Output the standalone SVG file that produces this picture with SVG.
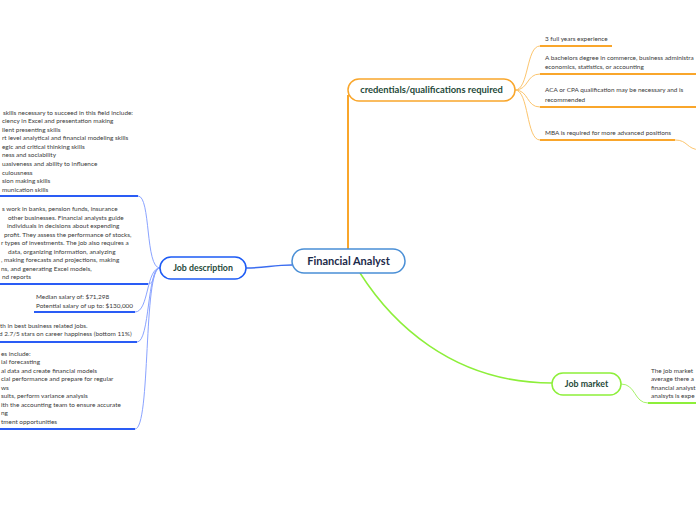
<svg xmlns="http://www.w3.org/2000/svg" width="696" height="520" viewBox="0 0 696 520">
<style>
.t{font-family:Lato,"Liberation Sans",sans-serif;font-size:6.4px;fill:#3a3a3a;}
.h{font-family:Lato,"Liberation Sans",sans-serif;font-size:8.8px;font-weight:bold;fill:#1f4a3a;text-anchor:middle;}
.c{font-family:Lato,"Liberation Sans",sans-serif;font-size:11px;font-weight:bold;fill:#1b2a4a;text-anchor:middle;}
.oc{fill:none;stroke:#fcc56e;stroke-width:1;}
.ou{fill:none;stroke:#f9a62b;stroke-width:2;}
.bc{fill:none;stroke:#8aa3ff;stroke-width:1;}
.bu{fill:none;stroke:#2a5cf5;stroke-width:2;}
.gc{fill:none;stroke:#a6f26a;stroke-width:1;}
.gu{fill:none;stroke:#8def3a;stroke-width:2;}
</style>
<rect width="696" height="520" fill="#ffffff"/>
<g id="connectors">
<path d="M348,95 L348,250" fill="none" stroke="#f9a62b" stroke-width="2"/>
<path d="M292,265 C272,265 266,268 246,268" fill="none" stroke="#3a6cf0" stroke-width="1.5"/>
<path d="M360,273 C390,320 450,383 552,383" fill="none" stroke="#8def3a" stroke-width="1.5"/>
<path class="oc" d="M515,90 C529,90 526,46 540,46"/>
<path class="oc" d="M515,90 C529,90 526,74 540,74"/>
<path class="oc" d="M515,90 C529,90 526,107 540,107"/>
<path class="oc" d="M515,90 C529,90 526,140 540,140"/>
<path class="oc" d="M675,140 C688,140 686,149 700,150"/>
<path class="bc" d="M160,268 C145,268 151,196 138,196"/>
<path class="bc" d="M160,268 C152,268 156,284 148,284"/>
<path class="bc" d="M160,268 C146,268 149,312 135,312"/>
<path class="bc" d="M160,268 C147,268 150,342 137,342"/>
<path class="bc" d="M160,268 C143,268 151,429 135,429"/>
<path class="gc" d="M621,384 C636,384 634,403 648,403"/>
</g>
<g id="center">
<rect x="292" y="249" width="113" height="24" rx="12" fill="#fff" stroke="#4a8fd6" stroke-width="1.5"/>
<text class="c" x="348.5" y="265">Financial Analyst</text>
</g>
<g id="credentials">
<rect x="348" y="79" width="167" height="22" rx="11" fill="#fff" stroke="#f9a62b" stroke-width="1.5"/>
<text class="h" x="431.5" y="93" style="font-size:9.4px">credentials/qualifications required</text>
</g>
<g id="cred-1">
<text class="t" x="545" y="41">3 full years experience</text>
<path class="ou" d="M540,46 L612,46"/>
</g>
<g id="cred-2">
<text class="t" x="545" y="60">A bachelors degree in commerce, business administra</text>
<text class="t" x="545" y="69">economics, statistics, or accounting</text>
<path class="ou" d="M540,74 L696,74"/>
</g>
<g id="cred-3">
<text class="t" x="545" y="92">ACA or CPA qualification may be necessary and is</text>
<text class="t" x="545" y="101.5">recommended</text>
<path class="ou" d="M540,107 L696,107"/>
</g>
<g id="cred-4">
<text class="t" x="545" y="135">MBA is required for more advanced positions</text>
<path class="ou" d="M540,140 L675,140"/>
</g>
<g id="job-description">
<rect x="160" y="257" width="86" height="22" rx="11" fill="#fff" stroke="#1d5bf5" stroke-width="1.5"/>
<text class="h" x="203" y="271">Job description</text>
</g>
<g id="jd-skills">
<text class="t" x="3" y="114.5">skills necessary to succeed in this field include:</text>
<text class="t" x="2" y="123">ciency in Excel and presentation making</text>
<text class="t" x="2" y="131.6">llent presenting skills</text>
<text class="t" x="2" y="140.2">rt level analytical and financial modeling skills</text>
<text class="t" x="2" y="148.8">egic and critical thinking skills</text>
<text class="t" x="2" y="157.4">ness and sociability</text>
<text class="t" x="2" y="166">uasiveness and ability to influence</text>
<text class="t" x="2" y="174.6">culousness</text>
<text class="t" x="2" y="183.2">sion making skills</text>
<text class="t" x="2" y="191.8">munication skills</text>
<path class="bu" d="M0,196 L138,196"/>
</g>
<g id="jd-overview">
<text class="t" x="2" y="211">s work in banks, pension funds, insurance</text>
<text class="t" x="8" y="219.5">other businesses. Financial analysts guide</text>
<text class="t" x="7" y="228">individuals in decisions about expending</text>
<text class="t" x="4" y="236.5">profit. They assess the performance of stocks,</text>
<text class="t" x="1" y="245">r types of investments. The job also requires a</text>
<text class="t" x="8" y="253.5">data, organizing information, analyzing</text>
<text class="t" x="1" y="262">, making forecasts and projections, making</text>
<text class="t" x="1" y="270.5">ns, and generating Excel models,</text>
<text class="t" x="2" y="279">nd reports</text>
<path class="bu" d="M0,284 L148,284"/>
</g>
<g id="jd-salary">
<text class="t" x="36" y="299">Median salary of: $71,298</text>
<text class="t" x="36" y="307.5">Potential salary of up to: $130,000</text>
<path class="bu" d="M34,312 L135,312"/>
</g>
<g id="jd-rank">
<text class="t" x="0" y="327.5">th in best business related jobs.</text>
<text class="t" x="-1" y="336">d 2.7/5 stars on career happiness (bottom 11%)</text>
<path class="bu" d="M0,342 L137,342"/>
</g>
<g id="jd-duties">
<text class="t" x="1" y="355.5">es include:</text>
<text class="t" x="1" y="364">ial forecasting</text>
<text class="t" x="1" y="372.5">al data and create financial models</text>
<text class="t" x="1" y="381">cial performance and prepare for regular</text>
<text class="t" x="1" y="389.5">ws</text>
<text class="t" x="1" y="398">sults, perform variance analysis</text>
<text class="t" x="1" y="406.5">ith the accounting team to ensure accurate</text>
<text class="t" x="1" y="415">ng</text>
<text class="t" x="1" y="423.5">tment opportunities</text>
<path class="bu" d="M0,429 L135,429"/>
</g>
<g id="job-market">
<rect x="552" y="373" width="69" height="22" rx="11" fill="#fff" stroke="#8def3a" stroke-width="1.5"/>
<text class="h" x="586.5" y="387">Job market</text>
</g>
<g id="jm-text">
<text class="t" x="651" y="372.5">The job market</text>
<text class="t" x="651" y="381">average there a</text>
<text class="t" x="651" y="389.5">financial analyst</text>
<text class="t" x="651" y="398">analsyts is expe</text>
<path class="gu" d="M648,403 L696,403"/>
</g>
</svg>
